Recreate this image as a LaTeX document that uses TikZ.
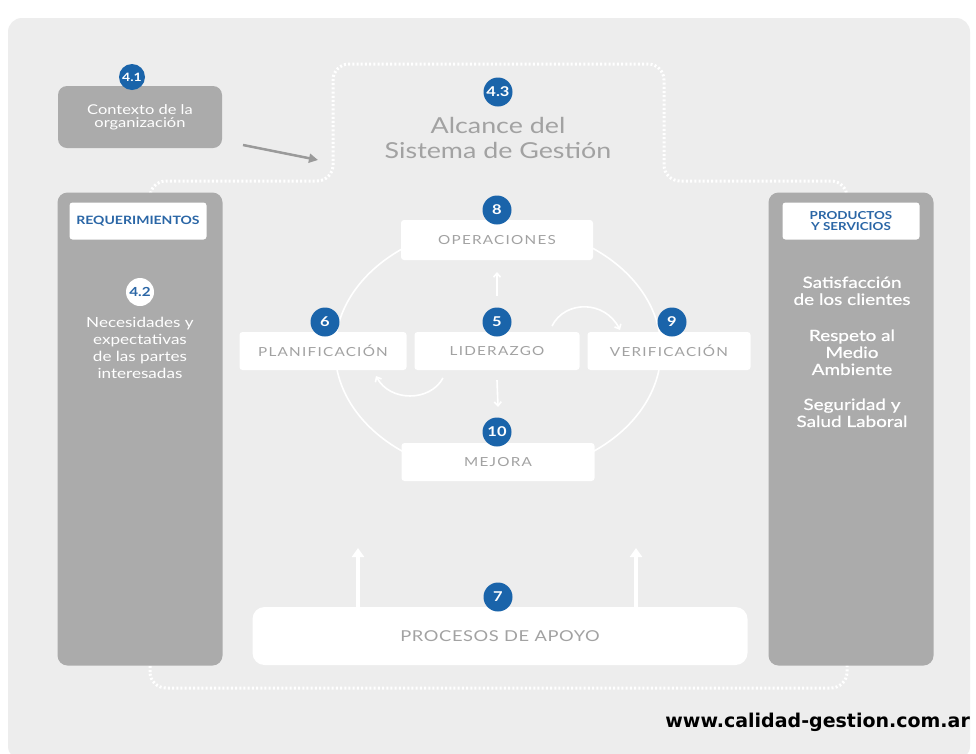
\documentclass[tikz,border=0pt]{standalone}
\usepackage{fontspec}
\setmainfont{Lato}[FakeStretch=1.22]
\newfontfamily\wmfont{DejaVu Sans}
\usetikzlibrary{arrows.meta}
\definecolor{bgc}{HTML}{EDEDED}
\definecolor{panelc}{HTML}{ABABAB}
\definecolor{badgec}{HTML}{1A64AA}
\definecolor{txtg}{HTML}{A2A2A2}
\definecolor{lblue}{HTML}{2A66A6}
\tikzset{
  badge/.style={circle, fill=badgec, text=white, font=\bfseries\fontsize{13.5}{13.5}\selectfont, inner sep=0pt, minimum size=29pt},
  wbox/.style={fill=white, rounded corners=3pt, text=txtg, font=\fontsize{12.5}{12.5}\selectfont\addfontfeatures{LetterSpace=10}, inner sep=0pt},
  panel/.style={fill=panelc, rounded corners=10pt},
  lbox/.style={fill=white, rounded corners=3pt, text=lblue, font=\bfseries\fontsize{11.5}{11.5}\selectfont, align=center, inner sep=0pt, minimum width=137pt, minimum height=37pt},
  ptext/.style={text=white, align=center},
  rtext/.style={text=white, align=center, anchor=north, font=\fontsize{15.5}{17}\selectfont\addfontfeatures{FakeBold=0.7}},
  dots/.style={draw=white, line width=3pt, dash pattern=on 2pt off 2.2pt, rounded corners=16pt},
  warr/.style={draw=white, line width=4pt, -{Triangle[length=9pt,width=12pt]}},
  carr/.style={draw=white, line width=1.6pt, -{Straight Barb[length=4pt,width=7pt]}}
}
\begin{document}
\begin{tikzpicture}[x=1pt,y=-1pt]
\useasboundingbox (0,0) rectangle (976,753);
\fill[white] (0,0) rectangle (976,753);
\fill[bgc, rounded corners=14pt] (8,18) rectangle (970,760);

% dotted scope outline
\draw[dots] (150,688) -- (150,181) -- (333,181) -- (333,64) -- (664,64) -- (664,181) -- (847,181) -- (847,688) -- cycle;

% 4.1 context
\node[fill=panelc, rounded corners=9pt, minimum width=164pt, minimum height=62pt, text=white, align=center, font=\fontsize{13.5}{13}\selectfont] (ctx) at (140,117) {Contexto de la\\organización};
\node[badge, minimum size=26pt, font=\bfseries\fontsize{11.5}{11.5}\selectfont] (b41) at (132,77) {4.1};
\coordinate (ctxa) at (243,145);
\coordinate (ctxb) at (318,160);
\draw[draw=panelc!90!black, line width=2.5pt, -{Triangle[length=9pt,width=9pt]}] (ctxa) -- (ctxb);

% 4.3 scope
\node[badge] (b43) at (498,92) {4.3};
\node[text=txtg, align=center, font=\fontsize{22}{25}\selectfont] (scope) at (498,138) {Alcance del\\Sistema de Gestión};

% left panel
\node[panel, minimum width=165pt, minimum height=473pt] (lp) at (140,429) {};
\node[lbox] (req) at (138,221) {REQUERIMIENTOS};
\node[circle, fill=white, text=lblue, font=\bfseries\fontsize{12.5}{12.5}\selectfont, inner sep=0pt, minimum size=28pt] (b42) at (140,292) {4.2};
\node[ptext, anchor=north, font=\fontsize{14}{17}\selectfont] (nec) at (140,314) {Necesidades y\\expectativas\\de las partes\\interesadas};

% right panel
\node[panel, minimum width=165pt, minimum height=473pt] (rp) at (851,429) {};
\node[lbox, font=\bfseries\fontsize{11}{11.5}\selectfont] (prod) at (851,221) {PRODUCTOS\\Y SERVICIOS};
\node[rtext] (sat) at (852,273) {Satisfacción\\de los clientes};
\node[rtext] (res) at (852,326) {Respeto al\\Medio\\Ambiente};
\node[rtext] (seg) at (852,395) {Seguridad y\\Salud Laboral};

% cycle
\draw[white, line width=1.6pt] (498,350) ellipse [x radius=163pt, y radius=125pt];
\node[wbox, minimum width=192pt, minimum height=40pt] (ope) at (497,240) {OPERACIONES};
\node[wbox, minimum width=167pt, minimum height=38pt] (pla) at (323,351) {PLANIFICACIÓN};
\node[wbox, minimum width=165pt, minimum height=38pt] (lid) at (497,351) {LIDERAZGO};
\node[wbox, minimum width=163pt, minimum height=38pt] (ver) at (669,351) {VERIFICACIÓN};
\node[wbox, minimum width=193pt, minimum height=38pt] (mej) at (498,462) {MEJORA};
\node[badge] (b8) at (497,210) {8};
\node[badge] (b6) at (325,322) {6};
\node[badge] (b5) at (497,322) {5};
\node[badge] (b9) at (672,322) {9};
\node[badge] (b10) at (497,432) {10};

\draw[carr] (b5.north) ++(0,-11) coordinate (upa) -- (ope.south |- 0,272) coordinate (upb);
\draw[carr] (lid.south) ++(0,10) coordinate (dna) -- (498,407) coordinate (dnb);
\coordinate (cra) at (552,326);
\coordinate (crb) at (620,330);
\draw[carr] (cra) .. controls (565,300) and (605,300) .. (crb);
\coordinate (cla) at (443,378);
\coordinate (clb) at (376,376);
\draw[carr] (cla) .. controls (430,402) and (390,402) .. (clb);

% support processes
\node[fill=white, rounded corners=12pt, minimum width=495pt, minimum height=58pt, text=txtg, font=\fontsize{15}{15}\selectfont\addfontfeatures{LetterSpace=4}] (apo) at (500,636) {PROCESOS DE APOYO};
\node[badge] (b7) at (498,597) {7};
\coordinate (a1) at (358,548);
\coordinate (a2) at (636,548);
\draw[warr] (apo.north -| a1) -- (a1);
\draw[warr] (apo.north -| a2) -- (a2);

% watermark
\node[anchor=south east, inner sep=0pt, font=\wmfont\bfseries\fontsize{19}{19}\selectfont] (wm) at (970,732) {www.calidad-gestion.com.ar};
\end{tikzpicture}
\end{document}
